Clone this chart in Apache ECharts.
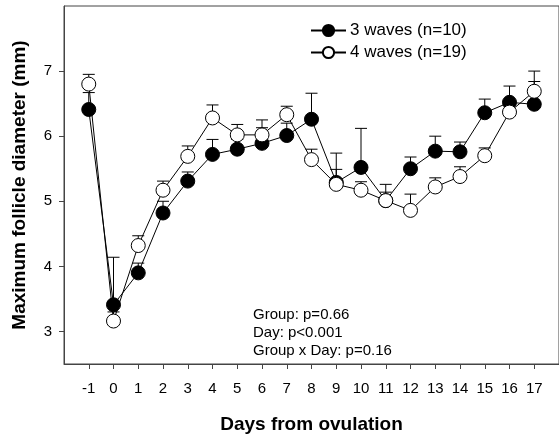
<!DOCTYPE html>
<html>
<head>
    <meta charset="utf-8">
    <title>Maximum follicle diameter</title>
    <script src="https://cdn.jsdelivr.net/npm/echarts@6.0.0/dist/echarts.min.js"></script>
    <style>
        html, body { margin: 0; padding: 0; background: #fff; }
        #chart { width: 559px; height: 439px; }
    </style>
</head>
<body>
<div id="chart"></div>
<script type="text/javascript">

    // days from ovulation
    var days = [-1, 0, 1, 2, 3, 4, 5, 6, 7, 8, 9, 10, 11, 12, 13, 14, 15, 16, 17];
    // 3 waves (n=10): mean and mean+SE
    var wave3Mean  = [6.41, 3.41, 3.90, 4.82, 5.31, 5.72, 5.80, 5.89, 6.01, 6.26, 5.29, 5.52, 5.01, 5.50, 5.77, 5.76, 6.36, 6.52, 6.49];
    var wave3Upper = [6.67, 4.14, 4.05, 5.00, 5.45, 5.95, 5.95, 6.13, 6.20, 6.66, 5.74, 6.12, 5.26, 5.68, 6.00, 5.91, 6.57, 6.77, 6.84];
    // 4 waves (n=19)
    var wave4Mean  = [6.80, 3.16, 4.32, 5.17, 5.69, 6.28, 6.02, 6.02, 6.33, 5.64, 5.26, 5.17, 5.01, 4.86, 5.22, 5.38, 5.70, 6.37, 6.69];
    var wave4Upper = [6.95, 3.30, 4.47, 5.31, 5.85, 6.48, 6.18, 6.25, 6.46, 5.80, 5.49, 5.30, 5.14, 5.11, 5.36, 5.53, 5.82, 6.50, 7.00];
    var yTicks = [3, 4, 5, 6, 7];
    var statsText = ['Group: p=0.66', 'Day: p<0.001', 'Group x Day: p=0.16'];

    var font = '"Liberation Sans", Arial, sans-serif';
    var axisColor = '#444';

    function pairs(xs, ys) {
        var out = [];
        for (var i = 0; i < xs.length; i++) out.push([xs[i], ys[i]]);
        return out;
    }
    function errData(xs, mean, upper) {
        var out = [];
        for (var i = 0; i < xs.length; i++) out.push([xs[i], mean[i], upper[i]]);
        return out;
    }

    // upper error bar with cap
    function renderErr(params, api) {
        var p0 = api.coord([api.value(0), api.value(1)]);
        var p1 = api.coord([api.value(0), api.value(2)]);
        var st = { stroke: '#000', lineWidth: 1 };
        return {
            type: 'group',
            children: [
                { type: 'line', shape: { x1: p0[0], y1: p0[1], x2: p1[0], y2: p1[1] }, style: st },
                { type: 'line', shape: { x1: p1[0] - 6, y1: p1[1], x2: p1[0] + 6, y2: p1[1] }, style: st }
            ]
        };
    }

    var myChart = echarts.init(document.getElementById('chart'), null, { renderer: 'canvas' });

    var option = {
        animation: false,
        textStyle: { fontFamily: font },
        grid: {
            left: 64, top: 6, width: 504.4, height: 363,
            show: true, borderColor: axisColor, borderWidth: 1
        },
        legend: {
            orient: 'vertical',
            left: 310,
            top: 22,
            padding: 0,
            itemWidth: 35,
            itemHeight: 14,
            itemGap: 5,
            textStyle: { fontSize: 17, color: '#000', fontFamily: font, padding: [0, 0, 0, -1] },
            data: ['3 waves (n=10)', '4 waves (n=19)']
        },
        xAxis: {
            type: 'value',
            min: -2, max: 18, interval: 1,
            name: 'Days from ovulation',
            nameLocation: 'middle',
            nameGap: 51,
            nameTextStyle: { fontSize: 19, fontWeight: 'bold', color: '#000', fontFamily: font },
            splitLine: { show: false },
            axisLine: { onZero: false, lineStyle: { color: axisColor } },
            axisTick: { length: 5, lineStyle: { color: axisColor }, customValues: days },
            axisLabel: { fontSize: 15, color: '#000', margin: 17, customValues: days }
        },
        yAxis: {
            type: 'value',
            min: 2.5, max: 8,
            name: 'Maximum follicle diameter (mm)',
            nameLocation: 'middle',
            nameGap: 35,
            nameTextStyle: { fontSize: 19, fontWeight: 'bold', color: '#000', fontFamily: font },
            splitLine: { show: false },
            axisLine: { onZero: false, lineStyle: { color: axisColor } },
            axisTick: { length: 5, lineStyle: { color: axisColor }, customValues: yTicks },
            axisLabel: { fontSize: 15, color: '#000', margin: 12, customValues: yTicks }
        },
        graphic: [{
            type: 'text',
            left: 253,
            top: 306,
            style: {
                text: statsText.join('\n'),
                font: '15px ' + font,
                lineHeight: 18,
                fill: '#000'
            }
        }],
        series: [
            {
                type: 'custom',
                renderItem: renderErr,
                data: errData(days, wave3Mean, wave3Upper),
                z: 1,
                silent: true
            },
            {
                type: 'custom',
                renderItem: renderErr,
                data: errData(days, wave4Mean, wave4Upper),
                z: 1,
                silent: true
            },
            {
                name: '3 waves (n=10)',
                type: 'line',
                data: pairs(days, wave3Mean),
                symbol: 'circle',
                symbolSize: 14,
                lineStyle: { color: '#000', width: 1 },
                itemStyle: { color: '#000', borderColor: '#000', borderWidth: 1 },
                z: 2
            },
            {
                name: '4 waves (n=19)',
                type: 'line',
                data: pairs(days, wave4Mean),
                symbol: 'circle',
                symbolSize: 14,
                lineStyle: { color: '#000', width: 1 },
                itemStyle: { color: '#fff', borderColor: '#000', borderWidth: 1 },
                z: 3
            }
        ]
    };

    myChart.setOption(option);
</script>
</body>
</html>
